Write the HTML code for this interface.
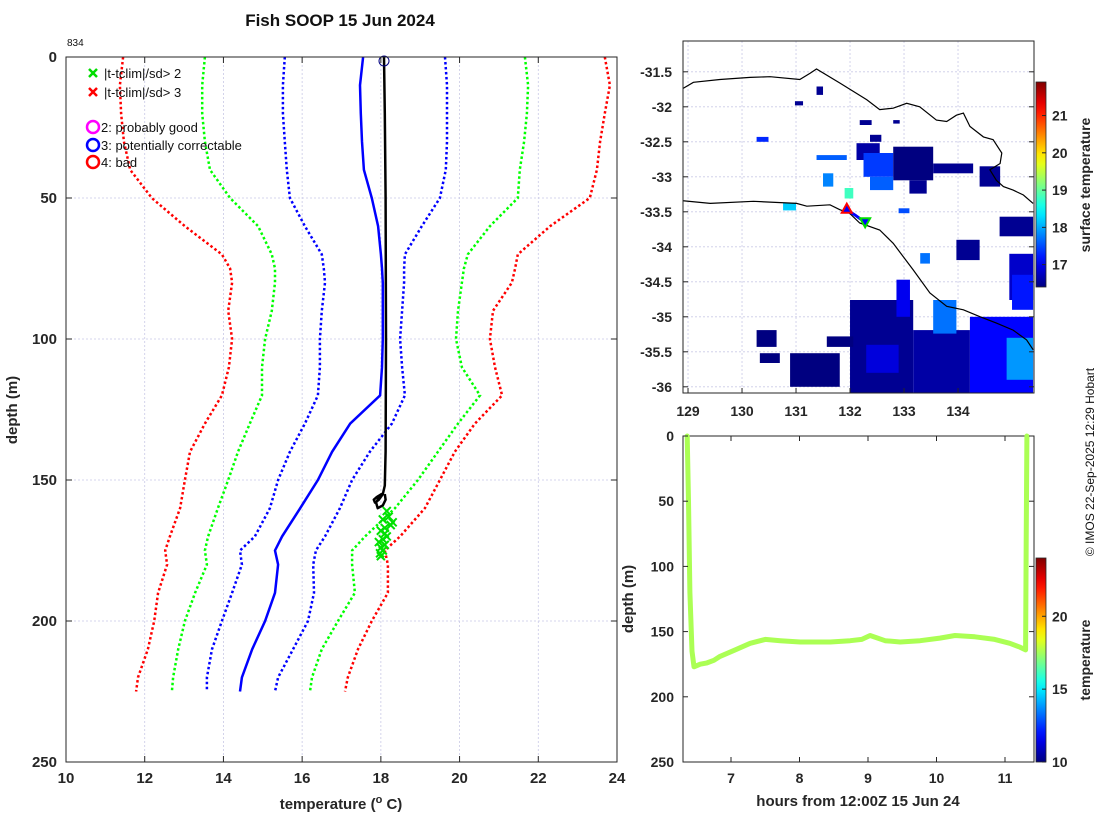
<!DOCTYPE html>
<html><head><meta charset="utf-8"><style>
body{margin:0;background:#fff;}
svg{display:block;font-family:"Liberation Sans",sans-serif;}
.tk{font-size:15px;font-weight:bold;fill:#262626;}
.tks{font-size:14px;font-weight:bold;fill:#262626;}
</style></head><body>
<svg id="fig" width="1100" height="820" viewBox="0 0 1100 820" xmlns="http://www.w3.org/2000/svg">
<defs>
<clipPath id="mapclip"><rect x="683" y="41" width="351" height="352"/></clipPath>
<linearGradient id="jet1" x1="0" y1="1" x2="0" y2="0"></linearGradient>
<linearGradient id="jet2" x1="0" y1="1" x2="0" y2="0"></linearGradient>
</defs>
<text x="340" y="26" text-anchor="middle" font-size="17" font-weight="bold" fill="#111">Fish SOOP 15 Jun 2024</text>
<text x="67" y="46" font-size="10" fill="#111">834</text>
<g id="left"></g>
<g id="map"></g>
<g id="bot"></g>
<text transform="translate(1094,462) rotate(-90)" text-anchor="middle" font-size="12" fill="#111">© IMOS 22-Sep-2025 12:29 Hobart</text>
</svg>
<script>
// ---------- Profile panel data ----------
const depthGrid=[0,10,20,30,40,50,60,70,75,80,90,100,110,120,130,140,150,160,170,175,180,190,200,210,220,225];
const redLeft=[11.45,11.37,11.40,11.47,11.63,12.18,13.02,13.96,14.17,14.22,14.12,14.22,14.14,13.96,13.53,13.15,13.02,12.90,12.64,12.52,12.57,12.34,12.24,12.08,11.83,11.78];
const redRight=[23.69,23.82,23.69,23.57,23.49,23.31,22.30,21.48,21.41,21.33,20.85,20.77,20.90,21.08,20.39,19.88,19.50,19.12,18.49,18.10,18.18,18.18,17.77,17.42,17.16,17.09];
const greenLeft=[13.53,13.46,13.46,13.53,13.66,14.17,14.88,15.23,15.31,15.31,15.23,15.06,14.98,14.98,14.67,14.37,14.12,13.86,13.61,13.53,13.58,13.28,13.02,12.85,12.72,12.69];
const greenRight=[21.66,21.74,21.71,21.64,21.53,21.48,20.77,20.21,20.11,20.06,19.96,19.91,20.06,20.52,19.96,19.45,18.94,18.36,17.60,17.27,17.27,17.34,16.91,16.50,16.25,16.20];
const blueLeft=[15.56,15.51,15.51,15.56,15.61,15.69,16.07,16.50,16.55,16.58,16.50,16.45,16.45,16.40,16.07,15.69,15.39,15.18,14.80,14.42,14.47,14.22,13.96,13.71,13.58,13.58];
const blueRight=[19.63,19.68,19.68,19.68,19.65,19.50,19.04,18.61,18.59,18.59,18.54,18.49,18.54,18.61,18.28,17.72,17.27,16.96,16.58,16.35,16.28,16.30,16.15,15.77,15.39,15.31];
const climMean=[17.55,17.47,17.49,17.52,17.57,17.77,17.93,18.00,18.03,18.05,18.05,18.05,18.03,17.98,17.22,16.76,16.40,15.95,15.49,15.31,15.39,15.31,15.06,14.73,14.47,14.42];
const obsDepth=[0,20,50,100,140,152,155,157,158,157,156,155,156,158,160,159,157,155];
const obsTemp=[18.08,18.10,18.12,18.13,18.12,18.10,18.05,17.95,17.85,17.82,17.90,18.02,17.96,17.88,17.92,18.05,18.12,18.10];
const flagDepth=[161,163,164,165,166,167,168,169,170,171,172,173,174,175,176,177];
const flagTemp=[18.15,18.2,18.05,18.3,18.25,18.1,18.0,18.1,18.15,18.05,17.95,18.1,18.0,18.05,17.98,18.0];
const xTicks=[10,12,14,16,18,20,22,24];
const yTicks=[0,50,100,150,200,250];

// ---------- Map data ----------
const lonTicks=[129,130,131,132,133,134];
const latTicks=[-31.5,-32,-32.5,-33,-33.5,-34,-34.5,-35,-35.5,-36];
const coastLon=[128.88,129.10,129.59,130.15,130.52,131.07,131.26,131.38,131.81,132.31,132.55,132.8,133.05,133.29,133.6,133.79,133.97,134.1,134.22,134.47,134.65,134.81,134.78,134.59,134.71,134.84,135.02,135.21,135.39];
const coastLat=[-31.75,-31.65,-31.61,-31.58,-31.57,-31.61,-31.52,-31.46,-31.66,-31.90,-32.04,-32.02,-31.95,-32.0,-32.19,-32.21,-32.12,-32.09,-32.28,-32.43,-32.47,-32.66,-32.81,-32.9,-33.05,-33.14,-33.19,-33.26,-33.38];
const shelfLon=[128.88,129.41,130.21,131.01,131.2,131.63,131.81,131.99,132.18,132.55,132.8,133.17,133.48,133.79,134.1,134.41,134.71,135.02,135.27,135.39];
const shelfLat=[-33.34,-33.38,-33.35,-33.38,-33.42,-33.40,-33.47,-33.52,-33.66,-33.76,-33.95,-34.33,-34.66,-34.85,-34.9,-35.0,-35.09,-35.19,-35.33,-35.47];
const sstLon1=[131.38,130.98,132.18,132.8,132.37,132.12,132.25,132.8,133.1,133.54,134.4,132.37,130.27,131.38,131.5,131.9,130.76,132.9,134.77,134.95,133.97,133.3,132.0,132.86,133.17,133.54,134.22,134.9,130.89,130.27,130.33,131.57,132.3,135.0];
const sstLat1=[-31.71,-31.92,-32.19,-32.19,-32.4,-32.52,-32.66,-32.57,-33.05,-32.81,-32.85,-33.0,-32.43,-32.69,-32.95,-33.16,-33.37,-33.45,-33.57,-34.1,-33.9,-34.09,-34.76,-34.47,-35.19,-34.76,-35.0,-35.3,-35.52,-35.19,-35.52,-35.28,-35.4,-34.4];
const sstLon2=[131.5,131.13,132.4,132.92,132.58,132.55,132.8,133.54,133.42,134.28,134.78,132.8,130.49,131.94,131.69,132.06,131.0,133.1,135.39,135.39,134.4,133.48,133.17,133.11,134.22,133.97,135.39,135.39,131.81,130.64,130.7,132.06,132.9,135.39];
const sstLat2=[-31.83,-31.98,-32.26,-32.24,-32.5,-32.76,-33.0,-33.05,-33.24,-32.95,-33.14,-33.19,-32.5,-32.76,-33.14,-33.31,-33.48,-33.52,-33.85,-34.76,-34.19,-34.24,-36.09,-35.0,-36.09,-35.24,-36.09,-35.9,-36.0,-35.43,-35.66,-35.43,-35.8,-34.9];
const sstVal=[16.5,16.5,16.5,16.5,16.5,16.6,17.4,16.4,16.5,16.5,16.5,17.6,17.3,17.6,17.8,18.8,18.2,17.5,16.5,16.8,16.5,17.7,16.5,17.0,16.6,17.7,17.1,17.9,16.4,16.4,16.4,16.4,16.9,17.2];
const trackLon=[131.94,132.1,132.28];
const trackLat=[-33.47,-33.55,-33.65];
const mapCbTicks=[17,18,19,20,21];

// ---------- Depth-time data ----------
const hours=[6.36,6.38,6.40,6.43,6.46,6.55,6.65,6.75,6.84,7.06,7.28,7.5,7.72,8.01,8.45,8.74,8.91,9.03,9.25,9.47,9.76,10.05,10.27,10.56,10.85,11.07,11.22,11.30,11.31,11.32];
const hourDepth=[0,50,120,165,177,175,174,172,169,164,159,156,157,158,158,157,156,153,157,158,157,155,153,154,156,159,162,164,80,0];
const hourTemp=17.6;
const hTicks=[7,8,9,10,11];
const bCbTicks=[10,15,20];

const NS="http://www.w3.org/2000/svg";
function mk(parent,tag,attrs,text){const e=document.createElementNS(NS,tag);for(const k in attrs)e.setAttribute(k,attrs[k]);if(text!==undefined)e.textContent=text;parent.appendChild(e);return e;}
function jet(t){t=Math.max(0,Math.min(1,t));const c=v=>Math.round(255*Math.max(0,Math.min(1,v)));return `rgb(${c(1.5-Math.abs(4*t-3))},${c(1.5-Math.abs(4*t-2))},${c(1.5-Math.abs(4*t-1))})`;}
function pts(xs,ys,fx,fy){return xs.map((v,i)=>fx(v).toFixed(1)+","+fy(ys[i]).toFixed(1)).join(" ");}

// ===== Left panel =====
const L=document.getElementById('left');
const X=t=>66+(t-10)*551/14, Y=d=>57+d*705/250;
mk(L,'rect',{x:66,y:57,width:551,height:705,fill:'#fff'});
xTicks.forEach(t=>{if(t>10&&t<24){const g=mk(L,'line',{x1:X(t),x2:X(t),y1:57,y2:762,stroke:'#c9c9e6','stroke-width':0.8,'stroke-dasharray':'2,2'});}});
yTicks.forEach(d=>{if(d>0&&d<250){const g=mk(L,'line',{x1:66,x2:617,y1:Y(d),y2:Y(d),stroke:'#c9c9e6','stroke-width':0.8,'stroke-dasharray':'2,2'});}});
function prof(arr,col,dash,w,name){const e=mk(L,'polyline',{points:pts(arr,depthGrid,X,Y),fill:'none',stroke:col,'stroke-width':w,'stroke-dasharray':dash||'none'});}
prof(redLeft,'#ff0000','2.5,2.5',2.5,'clim-3sd-low');
prof(redRight,'#ff0000','2.5,2.5',2.5,'clim-3sd-high');
prof(greenLeft,'#00ff00','2.5,2.5',2.5,'clim-2sd-low');
prof(greenRight,'#00ff00','2.5,2.5',2.5,'clim-2sd-high');
prof(blueLeft,'#0000ff','2.5,2.5',2.5,'clim-1sd-low');
prof(blueRight,'#0000ff','2.5,2.5',2.5,'clim-1sd-high');
prof(climMean,'#0000ff',null,2.5,'clim-mean');
const ob=mk(L,'polyline',{points:pts(obsTemp,obsDepth,X,Y),fill:'none',stroke:'#000','stroke-width':2.5,'stroke-linejoin':'round'});


flagDepth.forEach((d,i)=>{const x=X(flagTemp[i]),y=Y(d);const m=mk(L,'path',{d:`M${x-4},${y-4}L${x+4},${y+4}M${x-4},${y+4}L${x+4},${y-4}`,stroke:'#00e000','stroke-width':2});});
const sc=mk(L,'circle',{cx:X(obsTemp[0]),cy:Y(0)+4,r:5,fill:'none',stroke:'#000080','stroke-width':1});


mk(L,'rect',{x:66,y:57,width:551,height:705,fill:'none',stroke:'#262626','stroke-width':1});
xTicks.forEach(t=>{mk(L,'line',{x1:X(t),x2:X(t),y1:762,y2:756,stroke:'#262626'});mk(L,'line',{x1:X(t),x2:X(t),y1:57,y2:63,stroke:'#262626'});const e=mk(L,'text',{x:X(t),y:783,'text-anchor':'middle',class:'tk'},t);});
yTicks.forEach(d=>{mk(L,'line',{x1:66,x2:72,y1:Y(d),y2:Y(d),stroke:'#262626'});mk(L,'line',{x1:611,x2:617,y1:Y(d),y2:Y(d),stroke:'#262626'});const e=mk(L,'text',{x:57,y:Y(d)+5,'text-anchor':'end',class:'tk'},d);});
const xt=mk(L,'text',{x:341,y:809,'text-anchor':'middle',class:'tk','font-size':16});
xt.innerHTML='temperature (<tspan dy="-6" font-size="11">o</tspan><tspan dy="6"> C)</tspan>';


const yt=mk(L,'text',{transform:'translate(17,410) rotate(-90)','text-anchor':'middle',class:'tk','font-size':16},'depth (m)');


// legend
const lg=mk(L,'g',{});


[['#00dd00',73,'|t-tclim|/sd> 2'],['#ff0000',92,'|t-tclim|/sd> 3']].forEach(a=>{const e=mk(lg,'g',{});mk(e,'path',{d:`M89,${a[1]-4}L97,${a[1]+4}M89,${a[1]+4}L97,${a[1]-4}`,stroke:a[0],'stroke-width':2.5});mk(e,'text',{x:104,y:a[1]+5,'font-size':13,fill:'#111'},a[2]);});
[['#ff00ff',127,'2: probably good'],['#0000ff',145,'3: potentially correctable'],['#ff0000',162,'4: bad']].forEach(a=>{const e=mk(lg,'g',{});mk(e,'circle',{cx:93,cy:a[1],r:6,fill:'none',stroke:a[0],'stroke-width':2.5});mk(e,'text',{x:101,y:a[1]+5,'font-size':13,fill:'#111'},a[2]);});

// ===== Map panel =====
const M=document.getElementById('map');
const MX=lon=>683+(lon-128.907)*54, MY=lat=>41+(-31.06-lat)*70;
mk(M,'rect',{x:683,y:41,width:351,height:352,fill:'#fff'});
const mg=mk(M,'g',{'clip-path':'url(#mapclip)'});
lonTicks.forEach(l=>{mk(mg,'line',{x1:MX(l),x2:MX(l),y1:41,y2:393,stroke:'#c9c9e6','stroke-width':0.8,'stroke-dasharray':'2,2'});});
latTicks.forEach(l=>{mk(mg,'line',{x1:683,x2:1034,y1:MY(l),y2:MY(l),stroke:'#c9c9e6','stroke-width':0.8,'stroke-dasharray':'2,2'});});
const sMin=16.4,sMax=21.9;
sstVal.forEach((v,i)=>{const x1=MX(sstLon1[i]),x2=MX(sstLon2[i]),y1=MY(sstLat1[i]),y2=MY(sstLat2[i]);const r=mk(mg,'rect',{x:x1,y:y1,width:x2-x1,height:y2-y1,fill:jet((v-sMin)/(sMax-sMin))});});
const c1=mk(mg,'polyline',{points:pts(coastLon,coastLat,MX,MY),fill:'none',stroke:'#000','stroke-width':1.2});


const c2=mk(mg,'polyline',{points:pts(shelfLon,shelfLat,MX,MY),fill:'none',stroke:'#000','stroke-width':1.2});


const tr=mk(mg,'polyline',{points:pts(trackLon,trackLat,MX,MY),fill:'none',stroke:'#0000ff','stroke-width':3});


{const x=MX(trackLon[0]),y=MY(trackLat[0]);const t=mk(mg,'path',{d:`M${x},${y-6}L${x+5},${y+3}L${x-5},${y+3}Z`,fill:'#0000ff',stroke:'#ff0000','stroke-width':2});}
{const x=MX(trackLon[2]),y=MY(trackLat[2]);const t=mk(mg,'path',{d:`M${x-5},${y-4}L${x+5},${y-4}L${x},${y+5}Z`,fill:'#0000ff',stroke:'#00dd00','stroke-width':2});}
mk(M,'rect',{x:683,y:41,width:351,height:352,fill:'none',stroke:'#262626','stroke-width':1});
lonTicks.forEach(l=>{mk(M,'line',{x1:MX(l),x2:MX(l),y1:393,y2:388,stroke:'#262626'});const e=mk(M,'text',{x:MX(l),y:416,'text-anchor':'middle',class:'tks'},l);});
latTicks.forEach(l=>{mk(M,'line',{x1:683,x2:688,y1:MY(l),y2:MY(l),stroke:'#262626'});mk(M,'line',{x1:1029,x2:1034,y1:MY(l),y2:MY(l),stroke:'#262626'});const e=mk(M,'text',{x:672,y:MY(l)+5,'text-anchor':'end',class:'tks'},l);});
// colorbars
function gradStops(id){const g=document.getElementById(id);for(let i=0;i<=20;i++)mk(g,'stop',{offset:(i/20),'stop-color':jet(i/20)});}
gradStops('jet1');gradStops('jet2');
const CB1y=v=>287-(v-sMin)*205/(sMax-sMin);
const cb1=mk(M,'rect',{x:1036,y:82,width:10,height:205,fill:'url(#jet1)',stroke:'#262626','stroke-width':0.8});


mapCbTicks.forEach(v=>{mk(M,'line',{x1:1042,x2:1046,y1:CB1y(v),y2:CB1y(v),stroke:'#262626'});const e=mk(M,'text',{x:1052,y:CB1y(v)+5,class:'tks'},v);});
const ct1=mk(M,'text',{transform:'translate(1090,185) rotate(-90)','text-anchor':'middle',class:'tks'},'surface temperature');



// ===== Depth-time panel =====
const B=document.getElementById('bot');
const BX=h=>731+(h-7)*68.5, BY=d=>436+d*326/250;
const bMin=10,bMax=24;
mk(B,'rect',{x:683,y:436,width:351,height:326,fill:'#fff',stroke:'#262626','stroke-width':1});
const bl=mk(B,'polyline',{points:pts(hours,hourDepth,BX,BY),fill:'none',stroke:jet((hourTemp-bMin)/(bMax-bMin)),'stroke-width':5,'stroke-linejoin':'round','stroke-linecap':'round'});


hTicks.forEach(h=>{mk(B,'line',{x1:BX(h),x2:BX(h),y1:762,y2:757,stroke:'#262626'});mk(B,'line',{x1:BX(h),x2:BX(h),y1:436,y2:441,stroke:'#262626'});const e=mk(B,'text',{x:BX(h),y:783,'text-anchor':'middle',class:'tks'},h);});
yTicks.forEach(d=>{mk(B,'line',{x1:683,x2:688,y1:BY(d),y2:BY(d),stroke:'#262626'});mk(B,'line',{x1:1029,x2:1034,y1:BY(d),y2:BY(d),stroke:'#262626'});const e=mk(B,'text',{x:674,y:BY(d)+5,'text-anchor':'end',class:'tks'},d);});
const bxt=mk(B,'text',{x:858,y:806,'text-anchor':'middle',class:'tk','font-size':16},'hours from 12:00Z 15 Jun 24');


const byt=mk(B,'text',{transform:'translate(633,599) rotate(-90)','text-anchor':'middle',class:'tk','font-size':16},'depth (m)');


const CB2y=v=>762-(v-bMin)*204/(bMax-bMin);
const cb2=mk(B,'rect',{x:1036,y:558,width:10,height:204,fill:'url(#jet2)',stroke:'#262626','stroke-width':0.8});


bCbTicks.forEach(v=>{mk(B,'line',{x1:1042,x2:1046,y1:CB2y(v),y2:CB2y(v),stroke:'#262626'});const e=mk(B,'text',{x:1052,y:CB2y(v)+5,class:'tks'},v);});
const ct2=mk(B,'text',{transform:'translate(1090,660) rotate(-90)','text-anchor':'middle',class:'tks'},'temperature');


</script>
</body></html>
